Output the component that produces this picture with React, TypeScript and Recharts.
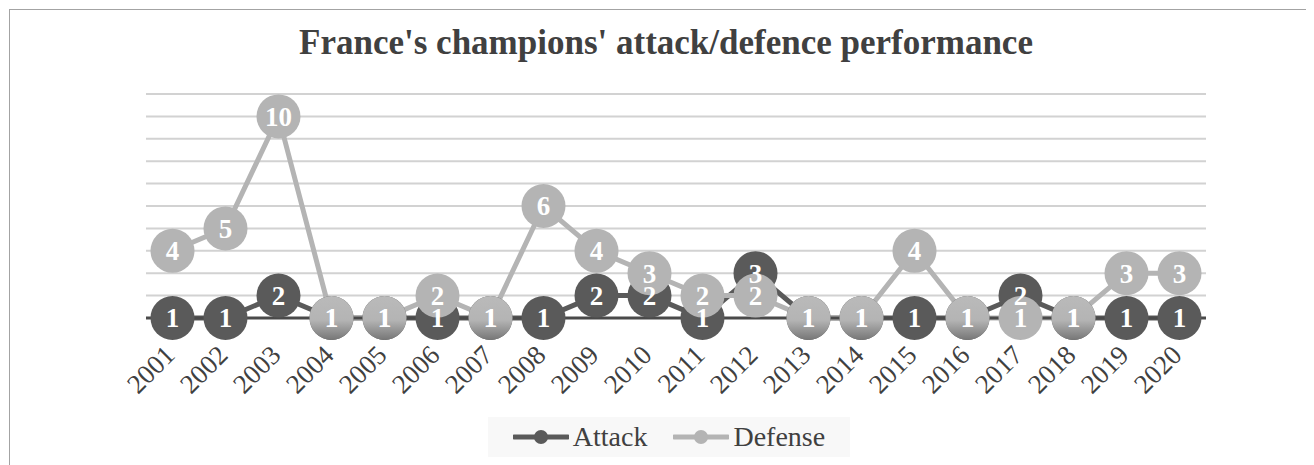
import React from 'react';
import { LineChart, Line, XAxis, YAxis, CartesianGrid, Legend } from 'recharts';

const years = ['2001','2002','2003','2004','2005','2006','2007','2008','2009','2010','2011','2012','2013','2014','2015','2016','2017','2018','2019','2020'];
const attack = [1,1,2,1,1,1,1,1,2,2,1,3,1,1,1,1,2,1,1,1];
const defense = [4,5,10,1,1,2,1,6,4,3,2,2,1,1,4,1,1,1,3,3];
const yTicks = [1,2,3,4,5,6,7,8,9,10,11];
const title = "France's champions' attack/defence performance";

const data = years.map((y, i) => ({ year: y, Attack: attack[i], Defense: defense[i] }));

const DARK = '#5a5a5a';
const LIGHT = '#b4b4b4';
const FONT = '"Liberation Serif", "Times New Roman", serif';

const makeDot = (key: string, fill: string) => (props: any) => {
  const { cx, cy, payload, index } = props;
  if (cx == null || cy == null) return <g key={`${key}-${index}`} />;
  let f = fill;
  if (key === 'Defense' && payload.Attack === payload.Defense) f = 'url(#defGrad)';
  return <circle key={`${key}-${index}`} cx={cx} cy={cy} r={22} fill={f} />;
};

const makeLabel = (key: string) => (p: any) => {
  if (p.x == null || p.y == null) return <g key={`${key}-l-${p.index}`} />;
  return (
    <text key={`${key}-l-${p.index}`} x={p.x} y={p.y} dy="0.35em" textAnchor="middle" fill="#ffffff" fontWeight="bold" fontSize={27} fontFamily={FONT}>{p.value}</text>
  );
};

const Tick = (props: any) => {
  const { x, payload } = props;
  const ax = x - 10;
  const ay = 335;
  return (
    <text x={ax} y={ay} dy="0.72em" textAnchor="end" fontSize={27} fill="#404040" fontFamily={FONT} transform={`rotate(-45 ${ax} ${ay})`}>{payload.value}</text>
  );
};

const LegendIcon = ({ color }: { color: string }) => (
  <svg width={56} height={16} style={{ display: 'block' }}>
    <line x1={1} y1={8} x2={55} y2={8} stroke={color} strokeWidth={5} strokeLinecap="round" />
    <circle cx={28} cy={8} r={7} fill={color} />
  </svg>
);

const LegendContent = () => (
  <div style={{ width: 362, height: 40, background: '#f8f8f8', display: 'flex', alignItems: 'center', justifyContent: 'center', fontFamily: FONT, fontSize: 28, color: '#404040' }}>
    <LegendIcon color={DARK} />
    <span style={{ marginLeft: 4, marginRight: 26 }}>Attack</span>
    <LegendIcon color={LIGHT} />
    <span style={{ marginLeft: 4 }}>Defense</span>
  </div>
);

export default function App() {
  return (
    <div style={{ position: 'relative', width: 1306, height: 457 }}>
      <div style={{ position: 'absolute', left: 1, top: 1, width: 1305, height: 456, borderTop: '1px solid #a3a3a3', borderLeft: '1px solid #a3a3a3', boxSizing: 'border-box' }} />
      <div style={{ position: 'absolute', left: 5, top: 18, width: 1306, textAlign: 'center', fontFamily: FONT, fontWeight: 'bold', fontSize: 35, lineHeight: '34px', color: '#404040' }}>{title}</div>
      <LineChart width={1306} height={457} data={data} margin={{ top: 86, right: 108, bottom: 8, left: 138 }}>
        <defs>
          <linearGradient id="defGrad" x1="0" y1="0" x2="0" y2="1">
            <stop offset="0%" stopColor="#bababa" />
            <stop offset="55%" stopColor="#b4b4b4" />
            <stop offset="100%" stopColor="#767676" />
          </linearGradient>
        </defs>
        <CartesianGrid vertical={false} stroke="#d2d2d2" strokeWidth={2} />
        <YAxis hide domain={[1, 11]} ticks={yTicks} interval={0} type="number" />
        <XAxis dataKey="year" height={99} padding={{ left: 26.5, right: 26.5 }} axisLine={{ stroke: '#4a4a4a', strokeWidth: 3 }} tickLine={false} interval={0} tick={<Tick />} />
        <Legend verticalAlign="bottom" align="center" content={<LegendContent />} wrapperStyle={{ left: 480, width: 362, height: 40 }} />
        <Line dataKey="Attack" stroke={DARK} strokeWidth={5} isAnimationActive={false} dot={makeDot('Attack', DARK)} activeDot={false} />
        <Line dataKey="Defense" stroke={LIGHT} strokeWidth={5} isAnimationActive={false} dot={makeDot('Defense', LIGHT)} activeDot={false} />
        <Line dataKey="Attack" stroke="none" isAnimationActive={false} dot={false} activeDot={false} legendType="none" label={makeLabel('Attack')} />
        <Line dataKey="Defense" stroke="none" isAnimationActive={false} dot={false} activeDot={false} legendType="none" label={makeLabel('Defense')} />
      </LineChart>
    </div>
  );
}
